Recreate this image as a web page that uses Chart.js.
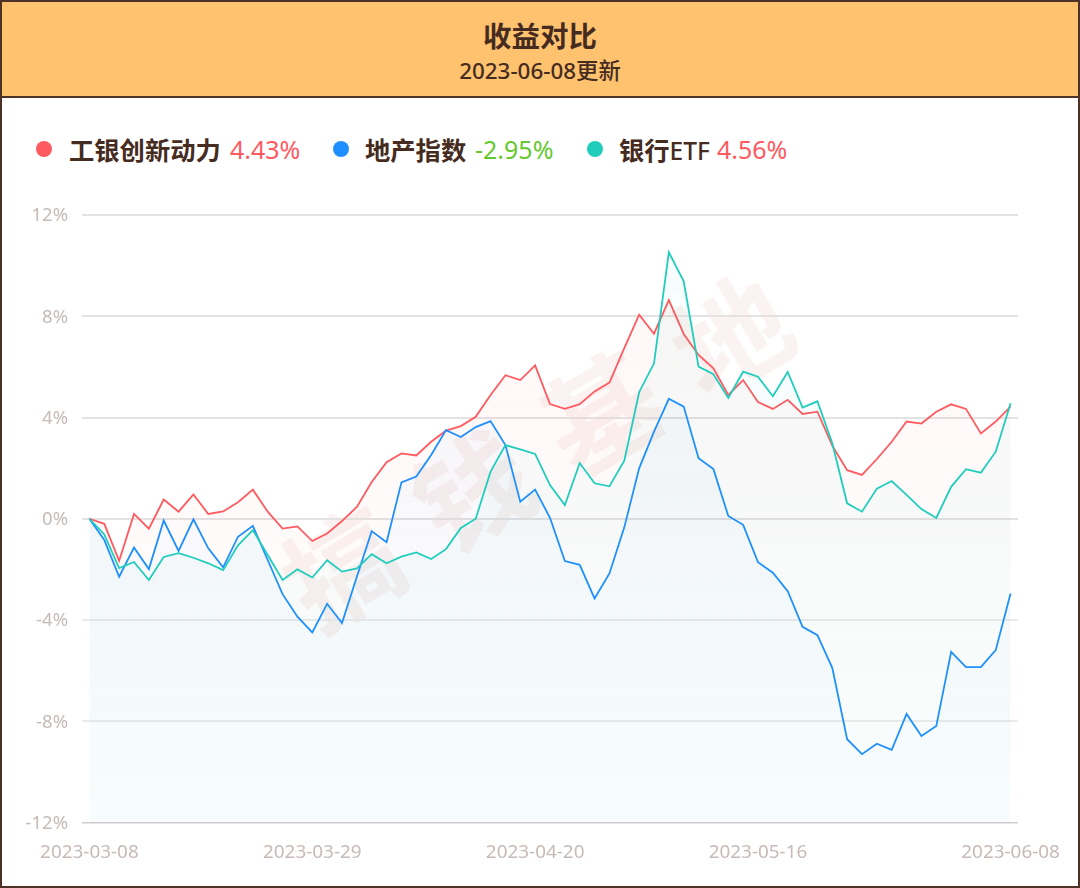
<!DOCTYPE html>
<html lang="zh-CN">
<head>
<meta charset="utf-8">
<title>收益对比</title>
<script src="https://cdn.jsdelivr.net/npm/chart.js@4"></script>
<style>
html,body{margin:0;padding:0;background:#fff;}
body{width:1080px;height:888px;overflow:hidden;position:relative;font-family:"Noto Sans","Noto Sans CJK SC",sans-serif;color:#452b20;}
#frame{position:absolute;left:0;top:0;width:1080px;height:888px;box-sizing:border-box;border:2px solid #4d3327;pointer-events:none;z-index:5;}
#head{position:absolute;left:0;top:0;width:1080px;height:98px;box-sizing:border-box;background:#ffc26f;border-bottom:2px solid #4d3327;text-align:center;}
#title{position:absolute;left:0;right:0;top:15px;font-size:28.5px;line-height:42px;font-weight:700;}
#sub{position:absolute;left:0;right:0;top:55px;font-size:22.4px;line-height:32px;font-weight:500;}
.leg{position:absolute;top:131px;height:38px;line-height:38px;white-space:nowrap;font-size:25.3px;font-weight:700;}
.leg b{font-weight:500;font-size:24.5px;}
.dot{position:absolute;top:141px;width:16px;height:16px;border-radius:50%;}
.val{position:absolute;top:130px;height:38px;line-height:38px;font-size:25px;font-weight:400;white-space:nowrap;}
#wm{position:absolute;left:0;top:0;width:1080px;height:888px;overflow:hidden;}
#wm span{position:absolute;left:553px;top:442px;transform:translate(-50%,-50%) rotate(-31deg);font-size:114px;font-weight:700;letter-spacing:37px;color:rgba(195,100,80,.08);white-space:nowrap;line-height:1;}
canvas{position:absolute;left:0;top:0;}
</style>
</head>
<body>
<div id="wm"><span>搞钱基地</span></div>
<div id="head"><div id="title"></div><div id="sub"></div></div>
<div id="legend"></div>
<canvas id="c" width="1080" height="888" style="width:1080px;height:888px"></canvas>
<div id="frame"></div>
<script>
const chartTitle = "收益对比";
const chartSubtitle = "2023-06-08更新";
const dates = ["2023-03-08","2023-03-09","2023-03-10","2023-03-13","2023-03-14","2023-03-15","2023-03-16","2023-03-17","2023-03-20","2023-03-21","2023-03-22","2023-03-23","2023-03-24","2023-03-27","2023-03-28","2023-03-29","2023-03-30","2023-03-31","2023-04-03","2023-04-04","2023-04-06","2023-04-07","2023-04-10","2023-04-11","2023-04-12","2023-04-13","2023-04-14","2023-04-17","2023-04-18","2023-04-19","2023-04-20","2023-04-21","2023-04-24","2023-04-25","2023-04-26","2023-04-27","2023-04-28","2023-05-04","2023-05-05","2023-05-08","2023-05-09","2023-05-10","2023-05-11","2023-05-12","2023-05-15","2023-05-16","2023-05-17","2023-05-18","2023-05-19","2023-05-22","2023-05-23","2023-05-24","2023-05-25","2023-05-26","2023-05-29","2023-05-30","2023-05-31","2023-06-01","2023-06-02","2023-06-05","2023-06-06","2023-06-07","2023-06-08"];
const shownDates = ["2023-03-08","2023-03-29","2023-04-20","2023-05-16","2023-06-08"];
const seriesNames = ["工银创新动力","地产指数","银行ETF"];
const seriesReturns = ["4.43%","-2.95%","4.56%"];
const redValues = [0,-0.2,-1.66,0.19,-0.39,0.76,0.28,0.96,0.19,0.29,0.65,1.15,0.28,-0.39,-0.3,-0.88,-0.58,-0.09,0.47,1.45,2.23,2.58,2.5,3.04,3.48,3.66,4.03,4.89,5.67,5.48,6.06,4.53,4.34,4.53,5.03,5.38,6.74,8.06,7.31,8.64,7.3,6.47,5.94,4.89,5.48,4.61,4.34,4.7,4.14,4.23,2.89,1.92,1.73,2.36,3.04,3.84,3.76,4.23,4.52,4.34,3.37,3.84,4.43];
const blueValues = [0,-0.84,-2.29,-1.14,-1.99,-0.07,-1.27,-0.02,-1.17,-1.92,-0.71,-0.28,-1.63,-2.98,-3.87,-4.49,-3.36,-4.12,-2.29,-0.49,-0.93,1.44,1.67,2.52,3.5,3.23,3.62,3.86,2.91,0.67,1.15,0.04,-1.67,-1.82,-3.15,-2.16,-0.34,1.99,3.44,4.74,4.43,2.39,1.96,0.11,-0.24,-1.72,-2.13,-2.86,-4.27,-4.6,-5.89,-8.71,-9.3,-8.89,-9.13,-7.71,-8.58,-8.19,-5.26,-5.86,-5.86,-5.19,-2.95];
const tealValues = [0,-0.62,-1.95,-1.71,-2.42,-1.51,-1.36,-1.54,-1.76,-2.03,-1.05,-0.45,-1.43,-2.42,-2.0,-2.32,-1.64,-2.09,-1.96,-1.4,-1.76,-1.5,-1.33,-1.59,-1.2,-0.36,0,1.86,2.91,2.74,2.56,1.33,0.54,2.2,1.4,1.28,2.29,5.0,6.14,10.53,9.38,6.01,5.71,4.77,5.81,5.61,4.84,5.8,4.39,4.64,2.98,0.61,0.28,1.19,1.49,0.94,0.38,0.03,1.26,1.96,1.82,2.65,4.56];
const yMin = -12, yMax = 12, yStep = 4;

const lineColors = ["#ff5a5f","#1f8fff","#20cdbd"];
const fillTop = ["rgba(255,90,90,.055)","rgba(24,144,255,.04)","rgba(32,205,190,.04)"];
const fillBottom = ["rgba(255,90,90,.0)","rgba(24,144,255,.012)","rgba(32,205,190,.022)"];
const valueColors = ["#ff5a5f","#67c930","#ff5a5f"];
const dotLefts = [36,333,587], nameLefts = [69,365,619], valueLefts = [230,475,717];

document.getElementById("title").textContent = chartTitle;
document.getElementById("sub").textContent = chartSubtitle;
const lg = document.getElementById("legend");
seriesNames.forEach((n,i)=>{
  const d=document.createElement("div");d.className="dot";d.style.left=dotLefts[i]+"px";d.style.background=lineColors[i];lg.appendChild(d);
  const t=document.createElement("div");t.className="leg";t.style.left=nameLefts[i]+"px";
  const m=n.match(/^([^A-Za-z]*)([A-Za-z]*)$/);
  t.textContent=m[1];
  if(m[2]){const b=document.createElement("b");b.textContent=m[2];t.appendChild(b);}
  lg.appendChild(t);
  const v=document.createElement("div");v.className="val";v.style.left=valueLefts[i]+"px";v.style.color=valueColors[i];v.textContent=seriesReturns[i];lg.appendChild(v);
});

function fillFor(i){
  return (ctx)=>{
    const a=ctx.chart.chartArea; if(!a) return fillTop[i];
    const g=ctx.chart.ctx.createLinearGradient(0,a.top,0,a.bottom);
    g.addColorStop(0,fillTop[i]);g.addColorStop(1,fillBottom[i]);
    return g;
  };
}
const allValues=[redValues,blueValues,tealValues];
new Chart(document.getElementById("c"),{
  type:"line",
  data:{labels:dates,datasets:seriesNames.map((n,i)=>({
    label:n,data:allValues[i],borderColor:lineColors[i],backgroundColor:fillFor(i),
    borderWidth:1.8,pointRadius:0,tension:0,fill:"start",order:3-i,borderJoinStyle:"miter"
  }))},
  options:{
    responsive:false,animation:false,
    layout:{padding:{left:0,right:62,top:215,bottom:0}},
    plugins:{legend:{display:false},title:{display:false},tooltip:{enabled:false}},
    scales:{
      x:{
        type:"category",offset:true,
        grid:{display:false},border:{display:false},
        afterFit(s){s.height=65.5;},
        ticks:{
          autoSkip:false,maxRotation:0,minRotation:0,padding:11,color:"#c6bbb6",
          font:{family:'"Noto Sans"',size:18.9},
          callback(v){const l=this.getLabelForValue(v);return shownDates.includes(l)?l:"";}
        }
      },
      y:{
        min:yMin,max:yMax,
        afterFit(s){s.width=82;},
        border:{display:false},
        grid:{
          tickLength:0,
          color:(c)=>c.tick.value===yMin?"#cfcccb":(c.tick.value===-4||c.tick.value===-8?"#ecebeb":"#e4e2e2"),
          lineWidth:(c)=>c.tick.value===yMin?1.5:2
        },
        ticks:{
          stepSize:yStep,padding:14,labelOffset:1,color:"#c6bbb6",
          font:{family:'"Noto Sans"',size:18.5},
          callback:(v)=>v+"%"
        }
      }
    }
  }
});
</script>
</body>
</html>
